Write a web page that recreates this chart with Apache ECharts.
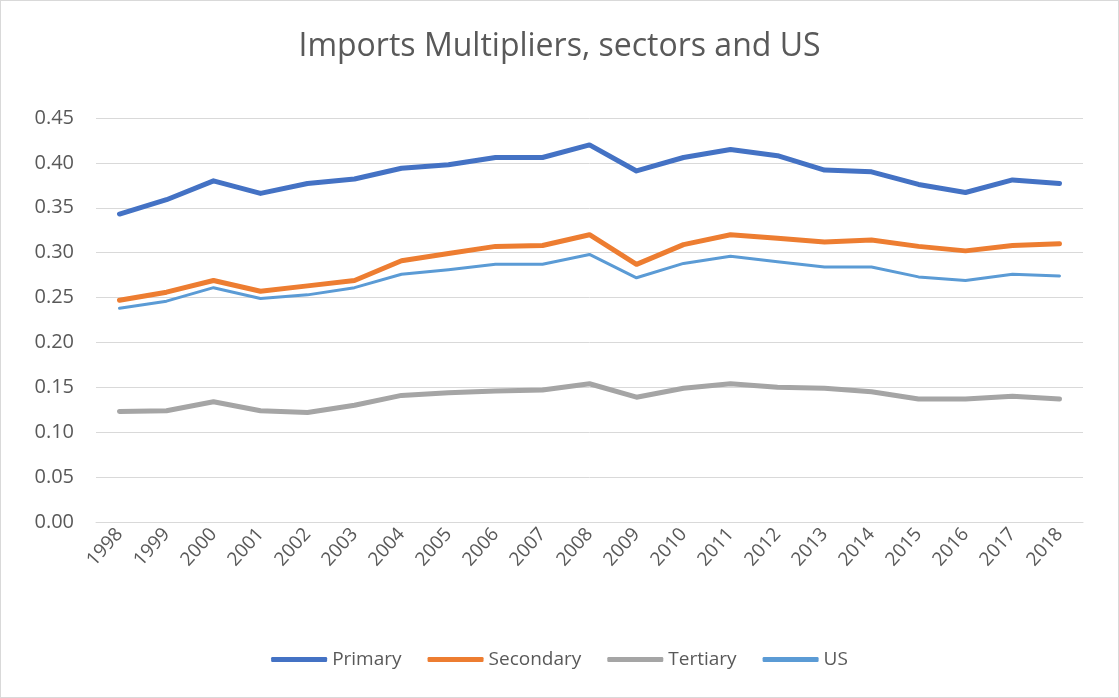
<!DOCTYPE html>
<html>
<head>
<meta charset="utf-8">
<script src="https://cdn.jsdelivr.net/npm/echarts@6/dist/echarts.min.js"></script>
<style>
  html, body { margin: 0; padding: 0; background: #fff; }
  #chart { width: 1117px; height: 696px; border: 1px solid #d9d9d9; }
</style>
</head>
<body>
<div id="chart"></div>
<script>
// years on the category axis
const years = ['1998', '1999', '2000', '2001', '2002', '2003', '2004', '2005', '2006', '2007',
    '2008', '2009', '2010', '2011', '2012', '2013', '2014', '2015', '2016', '2017', '2018'];

// values
const primary = [0.343, 0.359, 0.380, 0.366, 0.377, 0.382, 0.394, 0.398, 0.406, 0.406,
    0.420, 0.391, 0.406, 0.415, 0.408, 0.392, 0.390, 0.376, 0.367, 0.381, 0.377];
const secondary = [0.247, 0.256, 0.269, 0.257, 0.263, 0.269, 0.291, 0.299, 0.307, 0.308,
    0.320, 0.287, 0.309, 0.320, 0.316, 0.312, 0.314, 0.307, 0.302, 0.308, 0.310];
const tertiary = [0.123, 0.124, 0.134, 0.124, 0.122, 0.130, 0.141, 0.144, 0.146, 0.147,
    0.154, 0.139, 0.149, 0.154, 0.150, 0.149, 0.145, 0.137, 0.137, 0.140, 0.137];
const us = [0.238, 0.246, 0.261, 0.249, 0.253, 0.261, 0.276, 0.281, 0.287, 0.287,
    0.298, 0.272, 0.288, 0.296, 0.290, 0.284, 0.284, 0.273, 0.269, 0.276, 0.274];

const seriesNames = ['Primary', 'Secondary', 'Tertiary', 'US'];
const seriesColors = ['#4472C4', '#ED7D31', '#A5A5A5', '#5B9BD5'];

const textColor = '#595959';
const fontFam = "'Open Sans', sans-serif";

const chart = echarts.init(document.getElementById('chart'));

function makeLine(name, data, color, width) {
    return {
        name: name,
        type: 'line',
        data: data,
        symbol: 'none',
        lineStyle: { color: color, width: width, cap: 'round', join: 'round' },
        itemStyle: { color: color },
        emphasis: { disabled: true }
    };
}

chart.setOption({
    animation: false,
    textStyle: { fontFamily: fontFam },
    title: {
        text: 'Imports Multipliers, sectors and US',
        left: 'center',
        top: 25,
        textStyle: { fontSize: 32, fontWeight: 'normal', color: textColor, fontFamily: fontFam }
    },
    legend: {
        data: seriesNames,
        bottom: 23,
        left: 'center',
        icon: 'roundRect',
        itemWidth: 56,
        itemHeight: 5,
        itemGap: 26,
        itemTextGap: 4,
        textStyle: { fontSize: 19, color: textColor, fontFamily: fontFam }
    },
    grid: { left: 95, right: 35, top: 117, bottom: 175 },
    xAxis: {
        type: 'category',
        data: years,
        boundaryGap: true,
        axisLine: { lineStyle: { color: '#d9d9d9', width: 1 } },
        axisTick: { show: false },
        axisLabel: { rotate: 48, fontSize: 19, color: textColor, margin: 9, fontFamily: fontFam }
    },
    yAxis: {
        type: 'value',
        min: 0,
        max: 0.45,
        interval: 0.05,
        axisLine: { show: false },
        axisTick: { show: false },
        splitLine: { lineStyle: { color: '#d9d9d9', width: 1 } },
        axisLabel: {
            fontSize: 20, color: textColor, margin: 22, fontFamily: fontFam,
            formatter: v => v.toFixed(2)
        }
    },
    series: [
        makeLine('Primary', primary, seriesColors[0], 5),
        makeLine('Secondary', secondary, seriesColors[1], 5),
        makeLine('Tertiary', tertiary, seriesColors[2], 5),
        makeLine('US', us, seriesColors[3], 3)
    ]
});
</script>
</body>
</html>
